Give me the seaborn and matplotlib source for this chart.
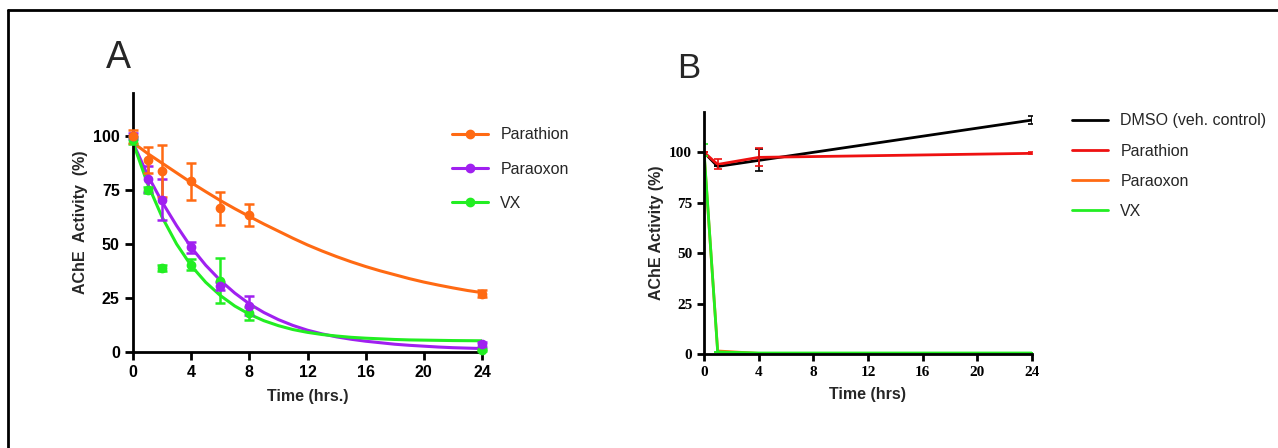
import numpy as np
import pandas as pd
import matplotlib
matplotlib.use("Agg")
import matplotlib.pyplot as plt
from matplotlib.lines import Line2D
import seaborn as sns

# ---- Panel A: measured points (mean, error) ----
time_a = [0, 1, 2, 4, 6, 8, 24]
parathion_a = [100, 89, 84, 79, 66.5, 63.5, 27]
parathion_a_err = [3, 6, 12, 8.5, 7.5, 5, 1.5]
paraoxon_a = [100, 80, 70.5, 48.5, 30.5, 21.5, 3.5]
paraoxon_a_err = [1.5, 6, 9.5, 2.5, 2, 4.5, 1]
vx_a = [98, 75, 39, 40.5, 33, 18, 1]
vx_a_err = [1.5, 1.5, 1.5, 2.5, 10.5, 3, 0.5]

# ---- Panel A: fitted decay curves ----
fit_t = list(range(0, 25))
fit_parathion = [97, 92, 87.5, 83, 78.5, 74.3, 70.2, 66.4, 62.8, 59.3, 56, 52.7, 49.6,
                 46.8, 44.2, 41.8, 39.6, 37.6, 35.8, 34, 32.4, 31, 29.7, 28.5, 27.5]
fit_paraoxon = [97, 82, 69.5, 58.5, 48.5, 40.2, 33.2, 27.3, 22.3, 18.3, 15, 12.3, 10.1,
                8.4, 7, 5.9, 5, 4.3, 3.6, 3.1, 2.7, 2.3, 2, 1.8, 1.6]
fit_vx = [97, 78, 62.5, 50, 40, 32.3, 26.2, 21.3, 17.5, 14.5, 12.2, 10.4, 9.1,
          8.1, 7.4, 6.8, 6.4, 6.1, 5.8, 5.6, 5.5, 5.4, 5.3, 5.25, 5.2]

# ---- Panel B ----
time_b = [0, 1, 4, 24]
dmso_b = [100, 93, 96, 116]
dmso_b_err = [0, 0, 5.5, 2]
parathion_b = [100, 94, 97.5, 99.5]
parathion_b_err = [0, 2.5, 4.5, 0.5]
paraoxon_b = [100, 1.5, 0.3, 0.3]
vx_b = [101, 1, 0.5, 0.5]
vx_b_err = [3, 0, 0, 0]

c_parathion = "#ff6a13"
c_paraoxon = "#a020f0"
c_vx = "#22ee22"
c_red = "#ee1111"

sns.set_theme(style="white")
plt.rcParams['font.family'] = ['Liberation Sans', 'DejaVu Sans']

fig = plt.figure(figsize=(12.78, 4.48), dpi=100)

# frame lines (top + left) like the source figure
fig.add_artist(Line2D([8 / 1278, 1], [1 - 10 / 448, 1 - 10 / 448], color="black", lw=2, transform=fig.transFigure))
fig.add_artist(Line2D([8 / 1278, 8 / 1278], [0, 1 - 10 / 448], color="black", lw=2, transform=fig.transFigure))

# ================= Panel A =================
axA = fig.add_axes([133 / 1278, 1 - 352 / 448, 349 / 1278, 259 / 448])

n = len(fit_t)
fit_df = pd.DataFrame({
    "t": fit_t * 3,
    "y": fit_parathion + fit_paraoxon + fit_vx,
    "agent": ["Parathion"] * n + ["Paraoxon"] * n + ["VX"] * n,
})
pal = {"Parathion": c_parathion, "Paraoxon": c_paraoxon, "VX": c_vx}
sns.lineplot(data=fit_df, x="t", y="y", hue="agent", palette=pal, lw=2.2, ax=axA, legend=False)

for ys, es, col in [(vx_a, vx_a_err, c_vx), (paraoxon_a, paraoxon_a_err, c_paraoxon),
                    (parathion_a, parathion_a_err, c_parathion)]:
    axA.errorbar(time_a, ys, yerr=es, fmt="o", color=col, ms=6, capsize=3.5,
                 elinewidth=1.8, capthick=1.8, clip_on=False, zorder=4)

axA.set_xlim(0, 24)
axA.set_ylim(0, 120)
axA.set_xticks([0, 4, 8, 12, 16, 20, 24])
axA.set_yticks([0, 25, 50, 75, 100])
for s in ["top", "right"]:
    axA.spines[s].set_visible(False)
for s in ["left", "bottom"]:
    axA.spines[s].set_linewidth(2)
    axA.spines[s].set_color("black")
axA.tick_params(axis="both", direction="out", length=6, width=2, colors="black",
                labelsize=11.5, left=True, bottom=True)
for lab in axA.get_xticklabels() + axA.get_yticklabels():
    lab.set_fontweight("bold")
axA.set_xlabel("Time (hrs.)", fontsize=11.5, fontweight="bold", labelpad=6)
axA.set_ylabel("AChE  Activity  (%)", fontsize=11.5, fontweight="bold", labelpad=4)

handlesA = [Line2D([], [], color=c, marker="o", ms=6, lw=2.2) for c in (c_parathion, c_paraoxon, c_vx)]
fig.legend(handlesA, ["Parathion", "Paraoxon", "VX"], loc="upper left",
           bbox_to_anchor=(438 / 1278, 1 - 113 / 448), frameon=False, fontsize=11.5,
           handlelength=2.2, labelspacing=1.2)

fig.text(118 / 1278, 1 - 58 / 448, "A", fontsize=27, ha="center", va="center")

# ================= Panel B =================
axB = fig.add_axes([704 / 1278, 1 - 354 / 448, 328 / 1278, 242 / 448])

b_df = pd.DataFrame({
    "t": time_b * 4,
    "y": dmso_b + parathion_b + paraoxon_b + vx_b,
    "agent": ["DMSO (veh. control)"] * 4 + ["Parathion"] * 4 + ["Paraoxon"] * 4 + ["VX"] * 4,
})
palB = {"DMSO (veh. control)": "black", "Parathion": c_red, "Paraoxon": c_parathion, "VX": c_vx}
sns.lineplot(data=b_df, x="t", y="y", hue="agent", palette=palB, lw=2, ax=axB, legend=False)
axB.errorbar(time_b, dmso_b, yerr=dmso_b_err, fmt="none", ecolor="black", capsize=3, elinewidth=1.2, capthick=1.2)
axB.errorbar(time_b, parathion_b, yerr=parathion_b_err, fmt="none", ecolor=c_red, capsize=3, elinewidth=1.2, capthick=1.2)
axB.errorbar(time_b, vx_b, yerr=vx_b_err, fmt="none", ecolor=c_vx, capsize=3, elinewidth=1.2, capthick=1.2)

axB.set_xlim(0, 24)
axB.set_ylim(0, 120)
axB.set_xticks([0, 4, 8, 12, 16, 20, 24])
axB.set_yticks([0, 25, 50, 75, 100])
for s in ["top", "right"]:
    axB.spines[s].set_visible(False)
for s in ["left", "bottom"]:
    axB.spines[s].set_linewidth(2)
    axB.spines[s].set_color("black")
axB.tick_params(axis="both", direction="out", length=5, width=2, colors="black",
                labelsize=11, left=True, bottom=True)
for lab in axB.get_xticklabels() + axB.get_yticklabels():
    lab.set_fontweight("bold")
    lab.set_family(["Liberation Serif", "DejaVu Serif"])
axB.set_xlabel("Time (hrs)", fontsize=11.5, fontweight="bold", labelpad=6)
axB.set_ylabel("AChE Activity (%)", fontsize=11.5, fontweight="bold", labelpad=4)

handlesB = [Line2D([], [], color=c, lw=2) for c in ("black", c_red, c_parathion, c_vx)]
fig.legend(handlesB, ["DMSO (veh. control)", "Parathion", "Paraoxon", "VX"], loc="upper left",
           bbox_to_anchor=(1058 / 1278, 1 - 99 / 448), frameon=False, fontsize=11.5,
           handlelength=2.2, labelspacing=0.95)

fig.text(689 / 1278, 1 - 68 / 448, "B", fontsize=25, ha="center", va="center")

fig.savefig("out.png", dpi=100)
